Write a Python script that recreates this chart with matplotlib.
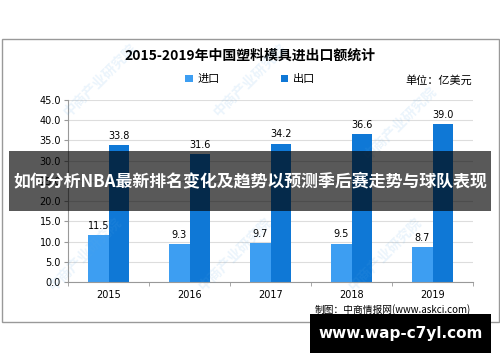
import numpy as np
import matplotlib
matplotlib.use("Agg")
import matplotlib.pyplot as plt
from matplotlib.patches import Rectangle

plt.rcParams['font.family'] = ['Noto Sans CJK SC', 'DejaVu Sans']

years = ['2015', '2016', '2017', '2018', '2019']
imports = [11.5, 9.3, 9.7, 9.5, 8.7]
exports = [33.8, 31.6, 34.2, 36.6, 39.0]

c_imp = '#3d9ef2'
c_exp = '#0f78d6'

fig = plt.figure(figsize=(5, 3.62), dpi=100)
ax = fig.add_axes([0.136, 0.221, 0.81, 0.503])

x = np.arange(len(years))
w = 0.25
b1 = ax.bar(x - w / 2, imports, w, color=c_imp, label='进口', zorder=2)
b2 = ax.bar(x + w / 2, exports, w, color=c_exp, label='出口', zorder=2)
ax.bar_label(b1, fmt='%.1f', fontsize=7, padding=3, family='DejaVu Sans')
ax.bar_label(b2, fmt='%.1f', fontsize=7, padding=3, family='DejaVu Sans')

ax.set_ylim(0, 45)
ax.set_xlim(-0.5, len(years) - 0.5)
ax.set_yticks(np.arange(0, 46, 5))
ax.set_yticklabels(['%.1f' % v for v in np.arange(0, 46, 5)], fontsize=7, family='DejaVu Sans')
ax.set_xticks(x)
ax.set_xticklabels(years, fontsize=7, family='DejaVu Sans')
ax.tick_params(axis='x', length=0, pad=6)
ax.tick_params(axis='y', length=3, color='#999999', pad=2)
ax.set_xticks(np.arange(-0.5, len(years), 1), minor=True)
ax.tick_params(axis='x', which='minor', length=3, color='#999999')
ax.yaxis.grid(True, color='#dddddd', linewidth=0.8, zorder=0)
for s in ['top', 'right']:
    ax.spines[s].set_visible(False)
for s in ['left', 'bottom']:
    ax.spines[s].set_color('#999999')

# outer frame
fig.patches.append(Rectangle((0.003, 0.11), 0.994, 0.782, transform=fig.transFigure,
                             fill=False, edgecolor='#999999', linewidth=1))

fig.text(0.5, 0.845, '2015-2019年中国塑料模具进出口额统计', ha='center', va='center',
         fontsize=10, fontweight='bold')
fig.legend(handles=[b1, b2], loc='center', bbox_to_anchor=(0.5, 0.781), ncol=2,
           frameon=False, fontsize=8, handlelength=0.7, handleheight=0.7,
           handletextpad=0.4, columnspacing=5.5)
fig.text(0.81, 0.779, '单位：亿美元', ha='left', va='center', fontsize=8)
fig.text(0.942, 0.144, '制图：中商情报网(www.askci.com)', ha='right', va='center', fontsize=7)

# faint watermarks
for wx, wy in [(0.2, 0.78), (0.5, 0.78), (0.8, 0.66), (0.17, 0.3), (0.47, 0.3),
               (0.77, 0.3)]:
    fig.text(wx, wy, '中商产业研究院', rotation=45, ha='center', va='center',
             fontsize=10, color='#5aa9e6', alpha=0.12, fontweight='bold')

# banner overlay
fig.patches.append(Rectangle((0.018, 0.417), 0.964, 0.166, transform=fig.transFigure,
                             facecolor='black', alpha=0.65, edgecolor='none', zorder=5))
fig.text(0.5, 0.5, '如何分析NBA最新排名变化及趋势以预测季后赛走势与球队表现', ha='center',
         va='center', fontsize=12.2, fontweight='bold', color='white', zorder=6)

# bottom black box
fig.patches.append(Rectangle((0.62, 0.025), 0.362, 0.108, transform=fig.transFigure,
                             facecolor='black', edgecolor='none', zorder=5))
fig.text(0.801, 0.079, 'www.wap-c7yl.com', ha='center', va='center', fontsize=11,
         fontweight='bold', color='white', family='DejaVu Sans', zorder=6)

fig.savefig('out.png', dpi=100)
